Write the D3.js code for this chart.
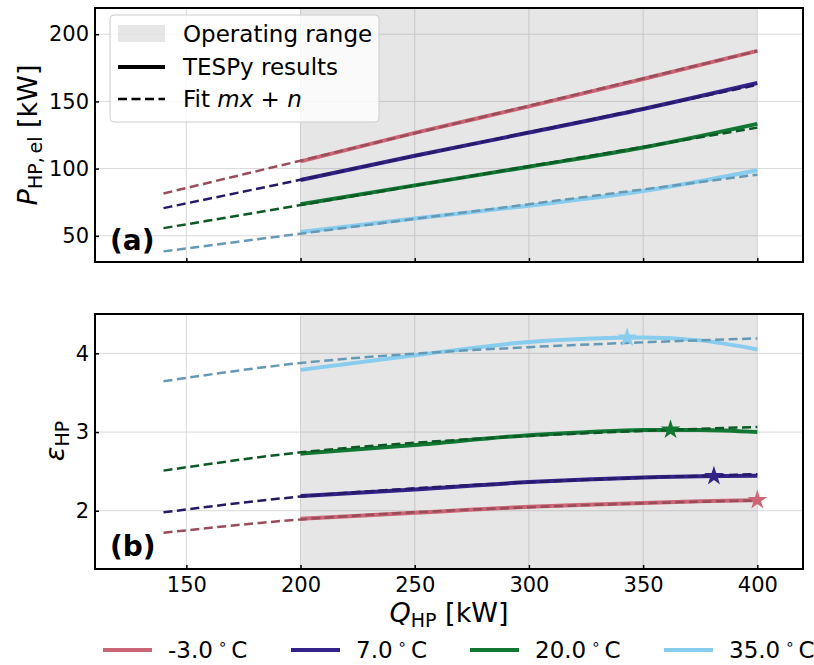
<!DOCTYPE html>
<html>
<head>
<meta charset="utf-8">
<script src="https://cdn.jsdelivr.net/npm/d3@7"></script>
<style>
  body { margin: 0; background: #fff; }
  svg { font-family: "DejaVu Sans", sans-serif; }
</style>
</head>
<body>
<svg id="chart" width="814" height="665"></svg>
<script>
// values
const temps = ["-3.0", "7.0", "20.0", "35.0"];
const colors = ["#cc6677", "#332288", "#117733", "#88ccee"];
const fitColors = ["#994c59", "#261966", "#0d5926", "#6699b3"];

const qSolid = [200, 250, 300, 350, 400];
const pSolid = [
  [105.4, 126.6, 146.3, 166.7, 187.6],
  [91.5, 109.5, 126.8, 144.4, 163.7],
  [73.4, 87.5, 101.4, 115.7, 133.3],
  [52.8, 62.9, 72.4, 83.3, 98.8]
];

const qFit = [140, 200, 250, 300, 350, 400];
const pFit = [
  [81.5, 105.9, 126.3, 146.7, 167.1, 187.5],
  [70.6, 91.7, 109.4, 127.0, 144.6, 162.3],
  [55.7, 72.9, 87.3, 101.7, 116.1, 130.5],
  [38.4, 51.6, 62.6, 73.5, 84.5, 95.5]
];
const copFit = [
  [1.72, 1.89, 1.98, 2.045, 2.095, 2.133],
  [1.98, 2.18, 2.285, 2.362, 2.42, 2.465],
  [2.51, 2.742, 2.864, 2.95, 3.015, 3.065],
  [3.646, 3.877, 3.996, 4.079, 4.14, 4.19]
];

const qCop = [200, 250, 300, 325, 350, 375, 400];
const copSolid = [
  [1.898, 1.974, 2.05, 2.077, 2.10, 2.12, 2.135],
  [2.186, 2.271, 2.364, 2.397, 2.424, 2.44, 2.444],
  [2.725, 2.835, 2.96, 2.998, 3.025, 3.027, 3.0],
  [3.79, 3.975, 4.145, 4.185, 4.2, 4.165, 4.05]
];

// best point per temperature
const starQ = [400, 381, 362, 343];
const starCop = [2.135, 2.44, 3.03, 4.2];

const opRange = [200, 400];
const xTicks = [150, 200, 250, 300, 350, 400];
const pTicks = [50, 100, 150, 200];
const copTicks = [2, 3, 4];

const svg = d3.select("#chart");
const L = 95, R = 803;

const x = d3.scaleLinear().domain([110, 420]).range([L, R]);
const yP = d3.scaleLinear().domain([30.5, 219.5]).range([262, 8]);
const yC = d3.scaleLinear().domain([1.26, 4.5]).range([569, 314]);

function panel(y, yTicks, showX) {
  const top = y.range()[1], bot = y.range()[0];
  const g = svg.append("g");

  // grid
  g.selectAll(".gx").data(xTicks).join("line")
    .attr("x1", d => x(d)).attr("x2", d => x(d))
    .attr("y1", top).attr("y2", bot)
    .attr("stroke", "#d9d9d9").attr("stroke-width", 1);
  g.selectAll(".gy").data(yTicks).join("line")
    .attr("x1", L).attr("x2", R)
    .attr("y1", d => y(d)).attr("y2", d => y(d))
    .attr("stroke", "#d9d9d9").attr("stroke-width", 1);

  // operating range
  g.append("rect")
    .attr("x", x(opRange[0])).attr("y", top)
    .attr("width", x(opRange[1]) - x(opRange[0])).attr("height", bot - top)
    .attr("fill", "rgba(128,128,128,0.2)");

  const xAxis = d3.axisBottom(x).tickValues(xTicks).tickSize(-4).tickPadding(8);
  if (!showX) xAxis.tickFormat("");
  const ax = g.append("g").attr("transform", `translate(0,${bot})`).call(xAxis);

  const ay = g.append("g").attr("transform", `translate(${L},0)`)
    .call(d3.axisLeft(y).tickValues(yTicks).tickFormat(d3.format("d"))
      .tickSize(-4).tickPadding(6));

  [ax, ay].forEach(a => {
    a.select(".domain").remove();
    a.selectAll(".tick line").attr("stroke", "#000").attr("stroke-width", 1.5);
    a.selectAll("text").attr("font-size", 21).attr("fill", "#000")
      .attr("font-family", "DejaVu Sans");
  });
  return g;
}

const gTop = panel(yP, pTicks, false);
const gBot = panel(yC, copTicks, true);

function drawLines(g, y, qs, vals, cols, width, dash) {
  const line = d3.line().x((d, i) => x(qs[i])).y(d => y(d)).curve(d3.curveMonotoneX);
  vals.forEach((v, k) => {
    g.append("path").attr("d", line(v))
      .attr("fill", "none")
      .attr("stroke", cols[k])
      .attr("stroke-width", width)
      .attr("stroke-dasharray", dash);
  });
}

drawLines(gTop, yP, qSolid, pSolid, colors, 4, null);
drawLines(gTop, yP, qFit, pFit, fitColors, 2.5, "9,4.5");
drawLines(gBot, yC, qCop, copSolid, colors, 4, null);
drawLines(gBot, yC, qFit, copFit, fitColors, 2.5, "9,4.5");

gBot.selectAll(".star").data(starQ).join("path")
  .attr("transform", (d, i) => `translate(${x(d)},${yC(starCop[i])})`)
  .attr("d", d3.symbol(d3.symbolStar, 120))
  .attr("fill", (d, i) => colors[i]);

// frames
[yP, yC].forEach(y => {
  svg.append("rect")
    .attr("x", L).attr("y", y.range()[1])
    .attr("width", R - L).attr("height", y.range()[0] - y.range()[1])
    .attr("fill", "none").attr("stroke", "#000").attr("stroke-width", 2);
});

// panel tags
svg.append("text").attr("x", 110).attr("y", 250).attr("font-size", 28)
  .attr("font-weight", "bold").text("(a)");
svg.append("text").attr("x", 110).attr("y", 556).attr("font-size", 28)
  .attr("font-weight", "bold").text("(b)");

// axis labels
function subLabel(t, main, sub, rest) {
  t.append("tspan").attr("font-style", "italic").text(main);
  t.append("tspan").attr("font-size", 19).attr("dy", 5).text(sub);
  if (rest) t.append("tspan").attr("dy", -5).text(rest);
}
subLabel(svg.append("text").attr("font-size", 27).attr("text-anchor", "middle")
  .attr("transform", "translate(37,135) rotate(-90)"), "P", "HP,\u2009el", " [kW]");
subLabel(svg.append("text").attr("font-size", 27).attr("text-anchor", "middle")
  .attr("transform", "translate(64,441) rotate(-90)"), "ε", "HP", null);
subLabel(svg.append("text").attr("font-size", 27).attr("text-anchor", "middle")
  .attr("x", 449).attr("y", 622), "Q", "HP", " [kW]");

// legend in panel (a)
const lg = svg.append("g");
lg.append("rect").attr("x", 110).attr("y", 15).attr("width", 269).attr("height", 107)
  .attr("rx", 4).attr("fill", "rgba(255,255,255,0.8)").attr("stroke", "#cccccc");
lg.append("rect").attr("x", 118).attr("y", 25).attr("width", 47).attr("height", 17)
  .attr("fill", "rgba(128,128,128,0.2)");
lg.append("line").attr("x1", 118).attr("x2", 165).attr("y1", 67).attr("y2", 67)
  .attr("stroke", "#000").attr("stroke-width", 4);
lg.append("line").attr("x1", 118).attr("x2", 165).attr("y1", 99).attr("y2", 99)
  .attr("stroke", "#000").attr("stroke-width", 2.5).attr("stroke-dasharray", "9,4.5");
lg.append("text").attr("x", 183).attr("y", 34).attr("dy", "0.35em").attr("font-size", 23)
  .text("Operating range");
lg.append("text").attr("x", 183).attr("y", 67).attr("dy", "0.35em").attr("font-size", 23)
  .text("TESPy results");
const ft = lg.append("text").attr("x", 183).attr("y", 99).attr("dy", "0.35em").attr("font-size", 23);
ft.append("tspan").text("Fit ");
ft.append("tspan").attr("font-style", "italic").text("mx");
ft.append("tspan").text(" + ");
ft.append("tspan").attr("font-style", "italic").text("n");

// temperature legend
const legendX = [103, 291, 470, 664];
temps.forEach((t, i) => {
  const lx = legendX[i];
  svg.append("line").attr("x1", lx).attr("x2", lx + 49).attr("y1", 650).attr("y2", 650)
    .attr("stroke", colors[i]).attr("stroke-width", 4);
  const tx = svg.append("text").attr("x", lx + 65).attr("y", 650).attr("dy", "0.35em")
    .attr("font-size", 23);
  tx.append("tspan").text(t);
  tx.append("tspan").attr("dx", 5).attr("dy", -9).attr("font-size", 15).text("∘");
  tx.append("tspan").attr("dx", 4).attr("dy", 9).text("C");
});
</script>
</body>
</html>
